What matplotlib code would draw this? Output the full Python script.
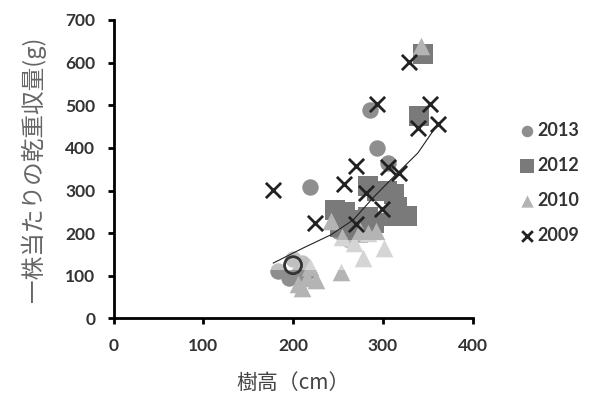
import numpy as np
import matplotlib.pyplot as plt
from matplotlib.patches import Rectangle

plt.rcParams['font.family'] = ['Lato', 'DejaVu Sans']

# 樹高 (cm) と 一株当たりの乾重収量 (g)
h2013 = [286, 294, 306, 219, 183, 195, 200, 210, 215, 205, 250, 262, 258, 245]
y2013 = [489, 400, 365, 308, 112, 95, 140, 130, 110, 105, 205, 185, 240, 255]

h2012 = [345, 340, 283, 293, 305, 312, 316, 327, 312, 283, 290, 247, 258, 262, 252, 272, 265]
y2012 = [620, 475, 310, 300, 300, 292, 262, 240, 240, 238, 224, 255, 250, 230, 215, 200, 215]

h2010 = [342, 242, 255, 268, 283, 275, 292, 301, 278, 253, 210, 226, 219, 205, 216]
y2010 = [640, 228, 190, 178, 200, 205, 205, 166, 142, 110, 72, 90, 121, 80, 95]

h2009 = [178, 224, 257, 270, 270, 281, 294, 299, 306, 318, 329, 339, 352, 361]
y2009 = [302, 224, 316, 358, 222, 294, 504, 257, 355, 340, 602, 447, 504, 457]

# 白抜きの丸
h_open = [200]
y_open = [125]

# 近似曲線
trend_h = [178, 211, 242, 267, 290, 312, 339, 359]
trend_y = [130, 165, 196, 231, 285, 332, 388, 449]

fig = plt.figure(figsize=(5.9, 3.99), dpi=100)
ax = fig.add_axes([0.1924, 0.2018, 0.6086, 0.7482])

ax.scatter(h2013, y2013, s=140, marker='o', color='#8e8e8e', linewidths=0, label='2013', zorder=2)
ax.scatter(h2012, y2012, s=190, marker='s', color='#7a7a7a', linewidths=0, label='2012', zorder=3)
ax.scatter(h2010, y2010, s=160, marker='^', color='#b4b4b4', linewidths=0, label='2010', zorder=4)
ax.scatter(h2009, y2009, s=120, marker='x', color='#222222', linewidths=2, label='2009', zorder=6)
ax.scatter(h_open, y_open, s=150, marker='o', facecolors='none', edgecolors='#333333',
           linewidths=2, zorder=7)

# scan artifact: faint white band
ax.add_patch(Rectangle((155, 114), 180, 70, facecolor='white', alpha=0.45,
                       linewidth=0, zorder=5))

ax.plot(trend_h, trend_y, color='#222222', lw=0.8, zorder=8)

ax.set_xlim(0, 400)
ax.set_ylim(0, 700)
ax.set_xticks([0, 100, 200, 300, 400])
ax.set_yticks(range(0, 701, 100))
for s in ['top', 'right']:
    ax.spines[s].set_visible(False)
for s in ['left', 'bottom']:
    ax.spines[s].set_linewidth(2)
ax.tick_params(direction='out', length=4, width=2, labelsize=12.5)
ax.tick_params(axis='x', pad=10)
ax.tick_params(axis='y', pad=9)
for lab in ax.get_xticklabels() + ax.get_yticklabels():
    lab.set_fontweight('bold')
    lab.set_color('#333333')

ax.set_xlabel('樹高（cm）', family=['Noto Sans CJK JP', 'DejaVu Sans'],
              fontsize=15, color='#444444', labelpad=13)
ax.set_ylabel('一株当たりの乾重収量(g)', family=['Noto Sans CJK JP', 'DejaVu Sans'],
              fontsize=17, color='#666666', labelpad=14)

leg = ax.legend(loc='center left', bbox_to_anchor=(1.075, 0.455), frameon=False,
                fontsize=13, handletextpad=0.0, labelspacing=1.0, markerscale=0.7,
                handlelength=1.2)
for t in leg.get_texts():
    t.set_fontweight('bold')
    t.set_color('#333333')

fig.savefig('out.png', dpi=100)
